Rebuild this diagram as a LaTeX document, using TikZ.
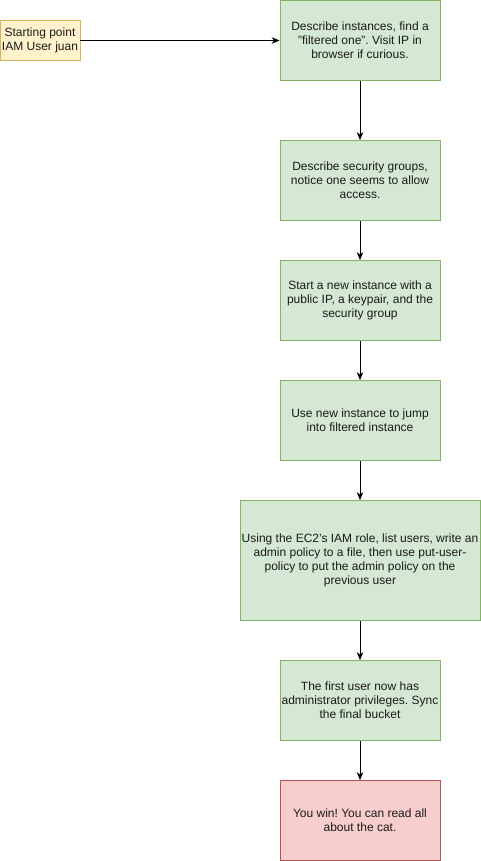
\documentclass[tikz,border=0pt]{standalone}
\usepackage{fontspec}
\setmainfont{Liberation Sans}
\usetikzlibrary{arrows.meta}
\frenchspacing
\definecolor{gfill}{HTML}{D5E8D4}
\definecolor{gdraw}{HTML}{82B366}
\definecolor{yfill}{HTML}{FFF2CC}
\definecolor{ydraw}{HTML}{D6B656}
\definecolor{rfill}{HTML}{F8CECC}
\definecolor{rdraw}{HTML}{B85450}
\definecolor{txt}{HTML}{1A1A1A}
\tikzset{
  box/.style={draw, line width=0.8pt, align=center, inner sep=0pt, font=\fontsize{12}{14}\selectfont\frenchspacing, text=txt},
  gbox/.style={box, fill=gfill, draw=gdraw, minimum width=160pt, minimum height=80pt},
  conn/.style={line width=0.8pt, -{Stealth[length=8pt,width=6.5pt,inset=2.5pt]}}
}
\begin{document}
\begin{tikzpicture}[x=1pt,y=-1pt]
\useasboundingbox (0,0) rectangle (481,861);
\node[box, fill=yfill, draw=ydraw, minimum width=80pt, minimum height=40pt] (s) at (40,40.5) {Starting point\\IAM User juan};
\node[gbox] (a) at (360,40.5) {Describe instances, find a\\"filtered one". Visit IP in\\browser if curious.};
\node[gbox] (b) at (360,180.5) {Describe security groups,\\notice one seems to allow\\access.};
\node[gbox] (c) at (360,300.5) {Start a new instance with a\\public IP, a keypair, and the\\security group};
\node[gbox] (d) at (360,420.5) {Use new instance to jump\\into filtered instance};
\node[gbox, minimum width=240pt, minimum height=120pt] (e) at (360,560.5) {Using the EC2's IAM role, list users, write an\\admin policy to a file, then use put-user-\\policy to put the admin policy on the\\previous user};
\node[gbox] (f) at (360,700.5) {The first user now has\\administrator privileges. Sync\\the final bucket};
\node[box, fill=rfill, draw=rdraw, minimum width=160pt, minimum height=80pt] (g) at (360,820.5) {You win! You can read all\\about the cat.};
\draw[conn] (s) -- (a);
\draw[conn] (a) -- (b);
\draw[conn] (b) -- (c);
\draw[conn] (c) -- (d);
\draw[conn] (d) -- (e);
\draw[conn] (e) -- (f);
\draw[conn] (f) -- (g);
\end{tikzpicture}
\end{document}
